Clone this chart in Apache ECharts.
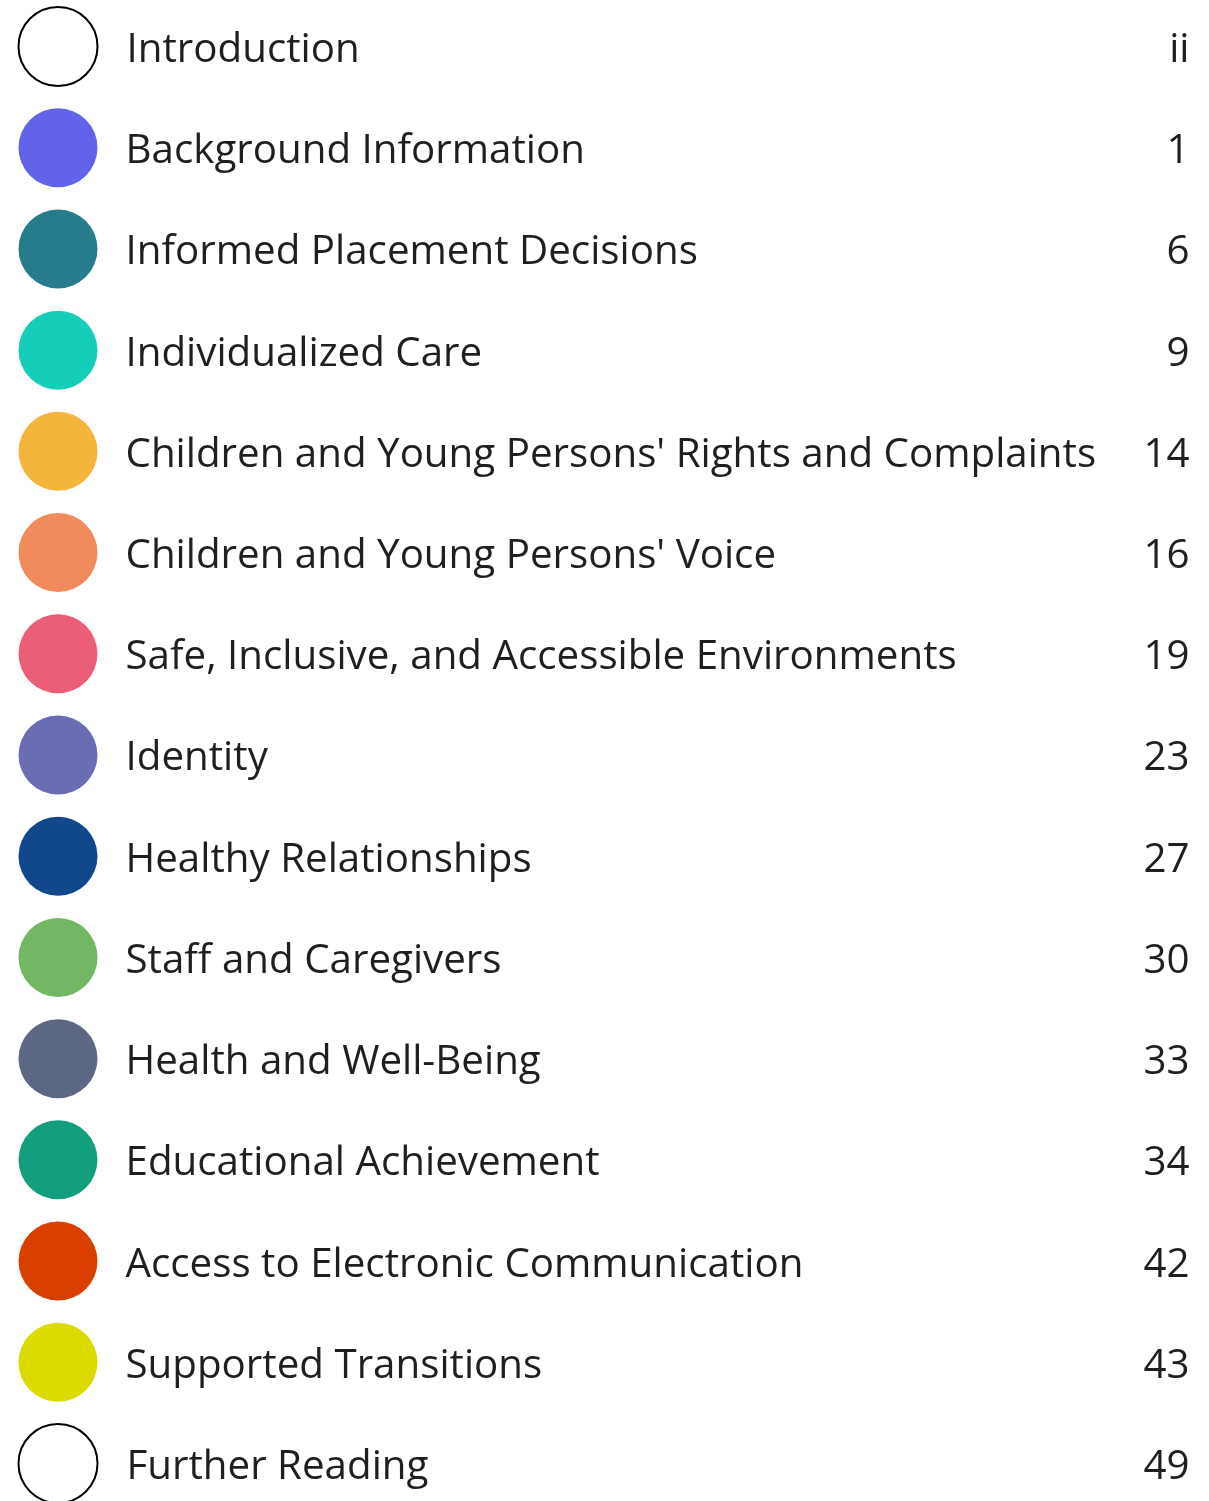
<!DOCTYPE html>
<html>
<head>
<meta charset="utf-8">
<script src="https://cdn.jsdelivr.net/npm/echarts@6/dist/echarts.min.js"></script>
<style>
  html, body { margin: 0; padding: 0; background: #fff; }
  #chart { width: 1209px; height: 1501px; }
</style>
</head>
<body>
<div id="chart"></div>
<script>
var sections = ['Introduction', 'Background Information', 'Informed Placement Decisions',
  'Individualized Care', "Children and Young Persons' Rights and Complaints",
  "Children and Young Persons' Voice", 'Safe, Inclusive, and Accessible Environments',
  'Identity', 'Healthy Relationships', 'Staff and Caregivers', 'Health and Well-Being',
  'Educational Achievement', 'Access to Electronic Communication',
  'Supported Transitions', 'Further Reading']
var pages = ['ii', '1', '6', '9', '14', '16', '19', '23', '27', '30', '33', '34', '42', '43', '49']
// null = outlined circle (no fill)
var dotColors = [null, '#6262EA', '#277C8C', '#16CDB9', '#F4B53D', '#EF8B5D', '#EA5E78',
  '#6A6CB4', '#11488C', '#73B664', '#5C6784', '#139E7D', '#D94000', '#DBDB00', null]

var fontFamily = '"Open Sans", "Noto Sans", sans-serif'

var chart = echarts.init(document.getElementById('chart'))
chart.setOption({
  backgroundColor: '#ffffff',
  animation: false,
  grid: { left: 58, right: 19, top: 46.5, height: 1417 },
  xAxis: { type: 'value', min: 0, max: 1, show: false },
  yAxis: {
    type: 'category',
    data: sections,
    inverse: true,
    boundaryGap: false,
    show: false
  },
  series: [{
    name: 'section',
    type: 'scatter',
    symbol: 'circle',
    symbolSize: 79,
    data: sections.map(function (name, i) {
      var c = dotColors[i]
      return {
        value: [0, i],
        itemStyle: c
          ? { color: c, borderWidth: 0, opacity: 1 }
          : { color: '#ffffff', borderColor: '#000000', borderWidth: 2, opacity: 1 }
      }
    }),
    label: {
      show: true,
      position: 'right',
      distance: 28,
      offset: [0, 4],
      color: '#1f1f1f',
      fontFamily: fontFamily,
      fontSize: 40.3,
      formatter: function (p) { return sections[p.dataIndex] }
    }
  }, {
    name: 'page',
    type: 'scatter',
    symbolSize: 1,
    itemStyle: { color: 'rgba(0,0,0,0)', opacity: 1 },
    data: pages.map(function (p, i) { return [1, i] }),
    label: {
      show: true,
      position: 'left',
      distance: 0,
      offset: [0, 4],
      color: '#1f1f1f',
      fontFamily: fontFamily,
      fontSize: 40.3,
      formatter: function (p) { return pages[p.dataIndex] }
    }
  }]
})
window.onresize = function () {
  chart.resize()
}
</script>
</body>
</html>
